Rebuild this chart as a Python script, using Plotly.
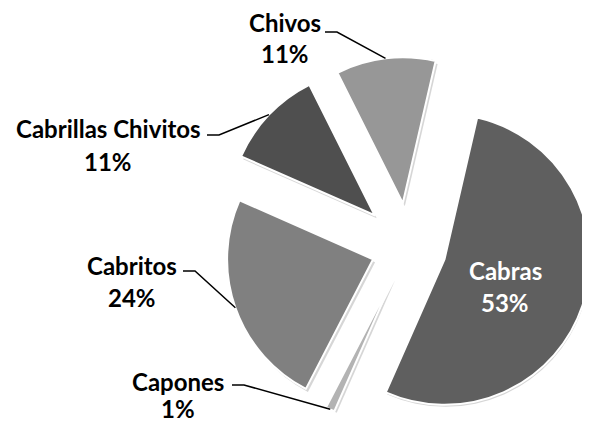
import math
import plotly.graph_objects as go

# ---- data ----
labels = ["Cabras", "Capones", "Cabritos", "Cabrillas Chivitos", "Chivos"]
values = [53, 1, 24, 11, 11]
colors = ["#5f5f5f", "#b3b3b3", "#808080", "#4f4f4f", "#979797"]
explode_px = [39, 34, 37, 46, 44]     # how far each slice is pulled out (pixels)
start_angle = 13                      # degrees clockwise from 12 o'clock

# ---- layout (screen pixels; the page body adds an 8px offset) ----
OFF = 8
W, H = 590 - OFF, 425 - OFF
cx, cy = 408, 247      # centre of the un-exploded pie (screen px)
R = 146                # pie radius
SHADOW = (2, 3)

def px(x):
    return (x - OFF) / W

def py(y):
    return 1 - (y - OFF) / H

def clamp(v):
    return min(1.0, max(0.0, v))

total = sum(values)
pcts = [round(100 * v / total) for v in values]
mids = []
acc = 0
for v in values:
    mids.append(math.radians(start_angle + 360 * (acc + v / 2) / total))
    acc += v

fig = go.Figure()

def slice_trace(i, ox, oy, color, line_w):
    ax = cx + explode_px[i] * math.sin(mids[i]) + ox
    ay = cy - explode_px[i] * math.cos(mids[i]) + oy
    cols = [color if j == i else "rgba(0,0,0,0)" for j in range(len(values))]
    lw = [line_w if j == i else 0 for j in range(len(values))]
    return go.Pie(
        labels=labels, values=values, sort=False, direction="clockwise",
        rotation=start_angle, pull=0,
        marker=dict(colors=cols, line=dict(color="white", width=lw)),
        textinfo="none", hoverinfo="skip" if ox or oy else "label+percent",
        showlegend=False,
        domain=dict(x=[clamp(px(ax - R)), clamp(px(ax + R))],
                    y=[clamp(py(ay + R)), clamp(py(ay - R))]),
    )

# soft shadows first, then the slices
for i in range(len(values)):
    fig.add_trace(slice_trace(i, SHADOW[0], SHADOW[1], "rgba(0,0,0,0.16)", 0))
for i in range(len(values)):
    fig.add_trace(slice_trace(i, 0, 0, colors[i], 2))

# label line centres (screen pixels): (x, y_name, y_pct)
label_pos = {
    "Cabras": (505, 270, 302),
    "Capones": (178, 381, 408),
    "Cabritos": (132, 265, 297),
    "Cabrillas Chivitos": (108, 128, 162),
    "Chivos": (285, 22, 54),
}
leader_start = {
    "Capones": (232, 385),
    "Cabritos": (183, 271),
    "Cabrillas Chivitos": (207, 135),
    "Chivos": (325, 32),
}

font = dict(family="Lato, Carlito, Calibri, sans-serif", size=24, color="black", weight="bold")
annotations = []
shapes = []
for i, (lab, pc) in enumerate(zip(labels, pcts)):
    lx, ly1, ly2 = label_pos[lab]
    f = dict(font)
    if lab == "Cabras":
        f["color"] = "white"
    for txt, yy in ((lab, ly1), (f"{pc}%", ly2)):
        annotations.append(dict(x=px(lx), y=py(yy), xref="paper", yref="paper",
                                text=txt, showarrow=False, font=f,
                                xanchor="center", yanchor="middle"))
    if lab in leader_start:
        rr = R + explode_px[i]
        ex, ey = cx + rr * math.sin(mids[i]), cy - rr * math.cos(mids[i])
        sx, sy = leader_start[lab]
        path = f"M {px(sx)},{py(sy)} L {px(sx + 12)},{py(sy)} L {px(ex)},{py(ey)}"
        shapes.append(dict(type="path", xref="paper", yref="paper", path=path,
                           line=dict(color="black", width=1.5)))

fig.update_layout(
    width=W, height=H, margin=dict(l=0, r=0, t=0, b=0),
    paper_bgcolor="white", plot_bgcolor="white",
    annotations=annotations, shapes=shapes,
)
fig.write_html("out.html")
